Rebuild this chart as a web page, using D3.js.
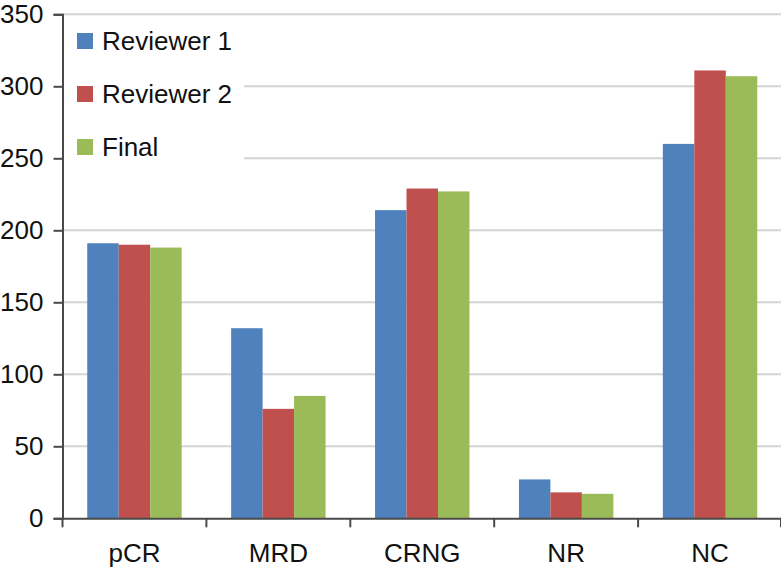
<!DOCTYPE html>
<html>
<head>
<meta charset="utf-8">
<script src="https://cdn.jsdelivr.net/npm/d3@7"></script>
<style>
  body { margin: 0; background: #fff; }
  svg text { font-family: "Liberation Sans", Arial, Helvetica, sans-serif; fill: #111; }
</style>
</head>
<body>
<script>
const categories = ["pCR", "MRD", "CRNG", "NR", "NC"];
const series = ["Reviewer 1", "Reviewer 2", "Final"];
const reviewer1 = [191, 132, 214, 27, 260];
const reviewer2 = [190, 76, 229, 18, 311];
const finalValues = [188, 85, 227, 17, 307];
const yTicks = [0, 50, 100, 150, 200, 250, 300, 350];
const colors = ["#4f81bd", "#c0504d", "#9bbb59"];

const width = 781;
const height = 572;
const margin = { top: 14.3, right: -1, bottom: 53.7, left: 62.5 };

function buildChart() {
    const svg = d3.select("body").append("svg")
        .attr("width", width)
        .attr("height", height);

    const values = [reviewer1, reviewer2, finalValues];

    const x0 = d3.scaleBand()
        .domain(categories)
        .range([margin.left, width - margin.right]);

    const x1 = d3.scaleBand()
        .domain(series)
        .range([0, x0.bandwidth()])
        .paddingOuter(0.786);

    const y = d3.scaleLinear()
        .domain([0, 350])
        .range([height - margin.bottom, margin.top]);

    const color = d3.scaleOrdinal().domain(series).range(colors);

    // gridlines
    svg.append("g")
        .selectAll("line")
        .data(yTicks.filter(d => d > 0))
        .enter().append("line")
        .attr("x1", margin.left)
        .attr("x2", width)
        .attr("y1", d => y(d))
        .attr("y2", d => y(d))
        .attr("stroke", "#d4d4d4")
        .attr("stroke-width", 2);

    // bars
    const group = svg.append("g")
        .selectAll("g")
        .data(categories)
        .enter().append("g")
        .attr("transform", d => "translate(" + x0(d) + ",0)");

    group.selectAll("rect")
        .data((d, i) => series.map((s, j) => ({ key: s, value: values[j][i] })))
        .enter().append("rect")
        .attr("x", d => x1(d.key))
        .attr("width", x1.bandwidth())
        .attr("y", d => y(d.value))
        .attr("height", d => y(0) - y(d.value))
        .attr("fill", d => color(d.key));

    // legend with white background
    const legend = svg.append("g").attr("id", "legend");
    legend.append("rect")
        .attr("x", margin.left + 1.5)
        .attr("y", 22)
        .attr("width", 180)
        .attr("height", 150)
        .attr("fill", "#fff");

    const item = legend.selectAll("g")
        .data(series)
        .enter().append("g")
        .attr("transform", (d, i) => "translate(77," + (41 + i * 53) + ")");

    item.append("rect")
        .attr("x", 0)
        .attr("y", -8)
        .attr("width", 16)
        .attr("height", 16)
        .attr("fill", d => color(d));

    item.append("text")
        .attr("x", 25)
        .attr("y", 0)
        .attr("dy", "0.35em")
        .style("font-size", "26px")
        .text(d => d);

    // y axis
    const yAxis = svg.append("g")
        .attr("transform", "translate(" + margin.left + ",0)")
        .call(d3.axisLeft(y).tickValues(yTicks).tickSize(9).tickPadding(10));
    yAxis.select(".domain").attr("stroke", "#4a4a4a").attr("stroke-width", 2);
    yAxis.selectAll(".tick line").attr("stroke", "#4a4a4a").attr("stroke-width", 2);
    yAxis.selectAll("text").style("font-size", "26px").attr("fill", "#111");

    // x axis
    const xAxis = svg.append("g")
        .attr("transform", "translate(0," + y(0) + ")")
        .call(d3.axisBottom(x0).tickSize(0).tickPadding(25));
    xAxis.select(".domain").attr("stroke", "#4a4a4a").attr("stroke-width", 2);
    xAxis.selectAll("text").style("font-size", "26px").attr("fill", "#111");

    const edges = categories.map(c => x0(c)).concat([x0.range()[1] - 1]);
    xAxis.selectAll(".edge")
        .data(edges)
        .enter().append("line")
        .attr("class", "edge")
        .attr("x1", d => d)
        .attr("x2", d => d)
        .attr("y1", 0)
        .attr("y2", 9)
        .attr("stroke", "#4a4a4a")
        .attr("stroke-width", 2);
}

document.addEventListener("DOMContentLoaded", () => buildChart());
</script>
</body>
</html>
